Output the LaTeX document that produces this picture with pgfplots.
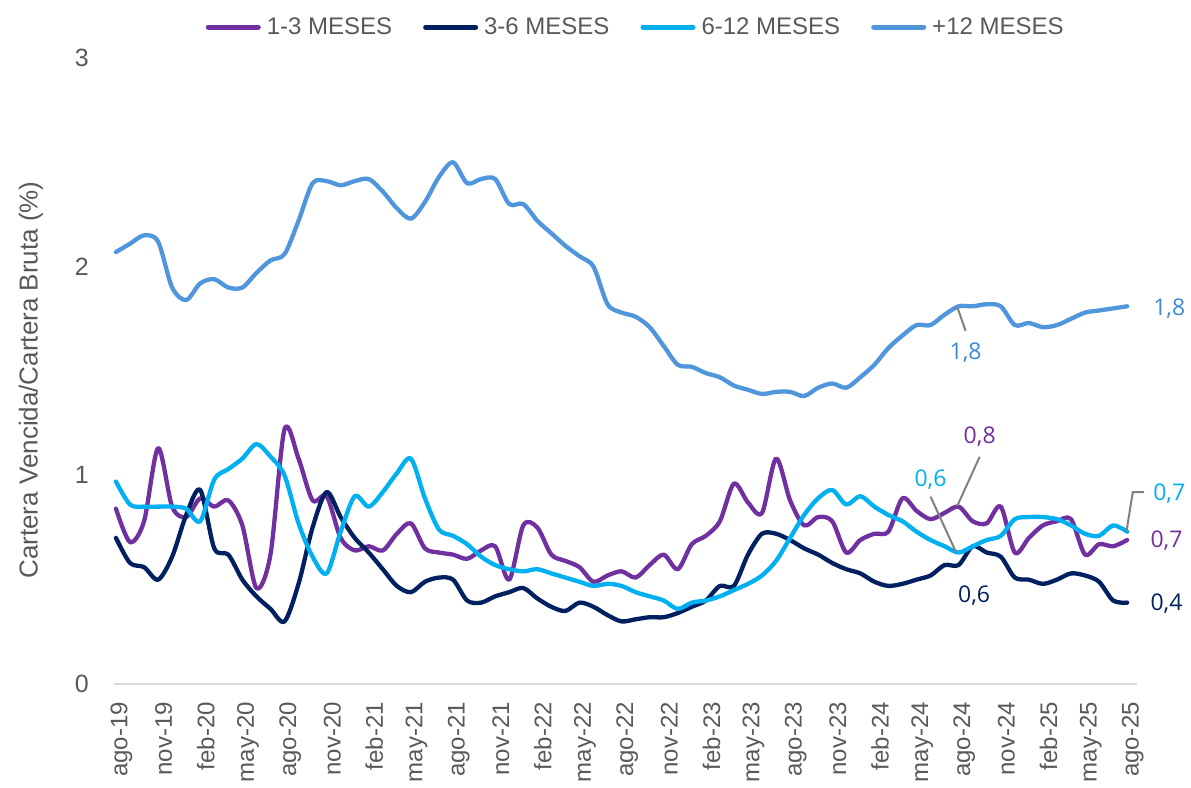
\documentclass[border=0pt]{standalone}
\usepackage{pgfplots}
\pgfplotsset{compat=1.18}
\usepackage{fontspec}
\setmainfont{Liberation Sans}
\newfontfamily\lblfont{Open Sans}
\definecolor{c13}{HTML}{7030A0}
\definecolor{c36}{HTML}{002060}
\definecolor{c612}{HTML}{00B0F0}
\definecolor{c12}{RGB}{80,150,220}
\definecolor{lbl12}{RGB}{62,137,212}
\definecolor{txt}{HTML}{595959}
\definecolor{axl}{HTML}{D9D9D9}
\definecolor{lead}{HTML}{808080}

\pgfplotstableread{
i a b c d
0 0.84 0.70 0.97 2.07
1 0.68 0.58 0.86 2.11
2 0.78 0.56 0.85 2.15
3 1.13 0.50 0.85 2.12
4 0.85 0.61 0.85 1.90
5 0.80 0.81 0.84 1.84
6 0.89 0.93 0.78 1.92
7 0.85 0.65 0.98 1.94
8 0.88 0.62 1.03 1.90
9 0.76 0.50 1.08 1.90
10 0.46 0.42 1.15 1.97
11 0.62 0.36 1.09 2.03
12 1.22 0.30 1.00 2.06
13 1.08 0.48 0.77 2.22
14 0.88 0.75 0.61 2.40
15 0.90 0.92 0.53 2.41
16 0.70 0.80 0.73 2.39
17 0.64 0.70 0.90 2.41
18 0.66 0.63 0.85 2.42
19 0.64 0.55 0.92 2.36
20 0.72 0.47 1.01 2.28
21 0.77 0.44 1.08 2.23
22 0.65 0.49 0.89 2.31
23 0.63 0.51 0.74 2.43
24 0.62 0.50 0.71 2.50
25 0.60 0.40 0.67 2.40
26 0.64 0.39 0.61 2.42
27 0.66 0.42 0.57 2.42
28 0.50 0.44 0.55 2.30
29 0.76 0.46 0.54 2.30
30 0.75 0.41 0.55 2.22
31 0.62 0.37 0.53 2.16
32 0.59 0.35 0.51 2.10
33 0.56 0.39 0.49 2.05
34 0.49 0.37 0.47 2.00
35 0.52 0.33 0.48 1.82
36 0.54 0.30 0.47 1.78
37 0.51 0.31 0.44 1.76
38 0.57 0.32 0.42 1.71
39 0.62 0.32 0.40 1.62
40 0.55 0.34 0.36 1.53
41 0.67 0.37 0.39 1.52
42 0.71 0.40 0.40 1.49
43 0.78 0.47 0.42 1.47
44 0.96 0.47 0.45 1.43
45 0.87 0.62 0.48 1.41
46 0.82 0.72 0.52 1.39
47 1.08 0.72 0.59 1.40
48 0.88 0.69 0.70 1.40
49 0.76 0.65 0.81 1.38
50 0.80 0.62 0.89 1.42
51 0.78 0.58 0.93 1.44
52 0.63 0.55 0.86 1.42
53 0.69 0.53 0.90 1.47
54 0.72 0.49 0.85 1.53
55 0.73 0.47 0.81 1.61
56 0.89 0.48 0.78 1.67
57 0.83 0.50 0.73 1.72
58 0.79 0.52 0.69 1.72
59 0.82 0.57 0.66 1.77
60 0.85 0.57 0.63 1.81
61 0.78 0.66 0.66 1.81
62 0.77 0.63 0.69 1.82
63 0.85 0.61 0.71 1.81
64 0.63 0.51 0.79 1.72
65 0.70 0.50 0.80 1.73
66 0.76 0.48 0.80 1.71
67 0.78 0.50 0.79 1.72
68 0.79 0.53 0.76 1.75
69 0.62 0.52 0.72 1.78
70 0.67 0.49 0.71 1.79
71 0.66 0.40 0.76 1.80
72 0.69 0.39 0.73 1.81
}\data

\begin{document}
\begin{tikzpicture}[x=1pt,y=1pt]
\useasboundingbox (0,0) rectangle (1191,787);
\begin{axis}[
  at={(114pt,103pt)}, anchor=south west,
  scale only axis, width=1023pt, height=626pt,
  xmin=-0.14, xmax=72.7, ymin=0, ymax=3,
  clip=false,
  axis x line*=bottom, axis y line*=left,
  x axis line style={draw=axl, line width=1.5pt, -},
  y axis line style={draw=none},
  major tick length=0pt,
  ytick={0,1,2,3},
  /pgf/number format/assume math mode=true,
  yticklabel style={text=txt, font=\fontsize{25}{25}\selectfont, inner sep=0pt, anchor=east},
  yticklabel shift=25pt,
  xtick={0.4,3.4,6.4,9.4,12.4,15.4,18.4,21.4,24.4,27.4,30.4,33.4,36.4,39.4,42.4,45.4,48.4,51.4,54.4,57.4,60.4,63.4,66.4,69.4,72.4},
  xticklabels={ago-19,nov-19,feb-20,may-20,ago-20,nov-20,feb-21,may-21,ago-21,nov-21,feb-22,may-22,ago-22,nov-22,feb-23,may-23,ago-23,nov-23,feb-24,may-24,ago-24,nov-24,feb-25,may-25,ago-25},
  xticklabel style={rotate=90, anchor=east, inner sep=0pt, text=txt, font=\fontsize{24}{24}\selectfont},
  xticklabel shift=18pt,
  legend columns=4,
  legend style={at={(0.509,1.0495)}, anchor=center, draw=none, fill=none,
    font=\fontsize{24}{24}\selectfont, text=txt,
    nodes={inner sep=0pt},
    /tikz/every even column/.append style={column sep=31pt},
    /tikz/every odd column/.append style={column sep=6pt}},
  legend cell align=left,
  legend image code/.code={\draw[#1, line width=5pt] (0pt,0pt) -- (50pt,0pt);},
  every axis plot/.append style={line width=4.3pt, line cap=round, line join=round, smooth, tension=0.5},
]
\addplot[c13] table[x=i, y=a] {\data};
\addlegendentry{1-3 MESES}
\addplot[c36] table[x=i, y=b] {\data};
\addlegendentry{3-6 MESES}
\addplot[c612] table[x=i, y=c] {\data};
\addlegendentry{6-12 MESES}
\addplot[c12] table[x=i, y=d] {\data};
\addlegendentry{+12 MESES}

% leader lines
\draw[lead, line width=2pt] (axis cs:59.9,1.807) -- (axis cs:60.5,1.692);
\draw[lead, line width=2pt] (axis cs:59.9,0.853) -- (axis cs:61.5,1.089);
\draw[lead, line width=2pt] (axis cs:59.8,0.634) -- (axis cs:58.0,0.898);
\draw[lead, line width=2pt] (axis cs:71.95,0.73) -- (axis cs:72.4,0.92) -- (axis cs:73.2,0.92);
% data labels
\begin{scope}[every node/.style={font=\lblfont\fontsize{23}{23}\selectfont, inner sep=0pt}]
\node[text=lbl12] at (axis cs:75.0,1.80) {1,8};
\node[text=lbl12] at (axis cs:60.5,1.586) {1,8};
\node[text=c13] at (axis cs:61.5,1.184) {0,8};
\node[text=c612] at (axis cs:58.0,0.978) {0,6};
\node[text=c36] at (axis cs:61.1,0.422) {0,6};
\node[text=c612] at (axis cs:75.0,0.91) {0,7};
\node[text=c13] at (axis cs:74.8,0.685) {0,7};
\node[text=c36] at (axis cs:74.8,0.383) {0,4};
\end{scope}
\end{axis}
\node[rotate=90, text=txt, font=\fontsize{26}{26}\selectfont, inner sep=0pt] at (31,407) {Cartera Vencida/Cartera Bruta (\%)};
\end{tikzpicture}
\end{document}
